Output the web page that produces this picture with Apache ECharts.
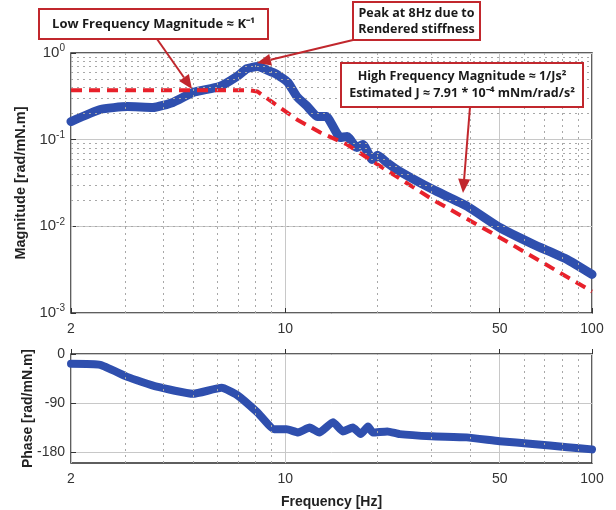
<!DOCTYPE html>
<html><head><meta charset="utf-8">
<script src="https://cdn.jsdelivr.net/npm/echarts@6/dist/echarts.min.js"></script>
<style>html,body{margin:0;padding:0;background:#fff}#c{width:616px;height:510px}</style>
</head><body><div id="c"></div>
<script>
// ---- data ----
const magFreq   = [2, 2.49, 3.05, 3.7, 4.3, 5.0, 6.1, 6.95, 7.5, 8.1, 9.1, 9.6, 10.2, 10.9, 11.8, 12.7, 13.6, 15.1, 15.9, 17.1, 17.9, 19.2, 20.0, 21.5, 23.6, 30.2, 39.2, 50, 64.4, 83, 100];
const magValues = [0.162, 0.223, 0.241, 0.235, 0.269, 0.35, 0.41, 0.536, 0.66, 0.699, 0.596, 0.536, 0.457, 0.315, 0.241, 0.185, 0.185, 0.106, 0.109, 0.081, 0.088, 0.059, 0.066, 0.054, 0.043, 0.0267, 0.0170, 0.0097, 0.0062, 0.00415, 0.00279];
const modelFreq   = [2, 7.6, 8.1, 9.1, 10.9, 13.0, 15.9, 19.3, 30.2, 50, 100];
const modelValues = [0.372, 0.372, 0.36, 0.269, 0.171, 0.121, 0.088, 0.056, 0.0204, 0.00745, 0.00177];
const phaseFreq   = [2, 2.49, 3.05, 3.81, 5.0, 6.2, 6.95, 8.1, 9.2, 10.1, 11.0, 12.0, 12.9, 14.3, 15.4, 16.6, 17.6, 18.6, 19.3, 21.5, 23.6, 30, 39, 50, 64, 83, 100];
const phaseValues = [-18, -20, -42, -60, -73, -62, -75, -107, -138, -138, -144, -135, -144, -125, -142, -135, -147, -133, -144, -142, -147, -151, -153, -160, -165, -171, -175];

const xTickLabels = [2, 10, 50, 100];
const xMinorLines = [3, 4, 5, 6, 7, 8, 9, 20, 30, 40, 60, 70, 80, 90];
const magMinorLines = [0.002, 0.003, 0.004, 0.005, 0.006, 0.007, 0.008, 0.009,
                       0.02, 0.03, 0.04, 0.05, 0.06, 0.07, 0.08, 0.09,
                       0.2, 0.3, 0.4, 0.5, 0.6, 0.7, 0.8, 0.9];
const phaseTickLabels = [-180, -90, 0];

// ---- styling ----
const FONT = '"Liberation Sans", Arial, sans-serif';
const BLUE = '#2f4fae';
const RED = '#e8212b';
const BOXRED = '#c1272d';
const minorStyle = {color: '#a8a8a8', width: 1, type: [2, 4]};

function pairs(xs, ys) { return xs.map((x, i) => [x, ys[i]]); }

function minorSeries(gridIdx, vlines, hlines) {
  const data = [];
  vlines.forEach(v => data.push({xAxis: v}));
  hlines.forEach(v => data.push({yAxis: v}));
  return {
    type: 'line', xAxisIndex: gridIdx, yAxisIndex: gridIdx, z: 1, silent: true,
    data: [], symbol: 'none', lineStyle: {opacity: 0},
    markLine: {silent: true, symbol: ['none', 'none'], animation: false,
      label: {show: false}, lineStyle: minorStyle, emphasis: {disabled: true}, data: data}
  };
}

function xAxisCfg(gridIdx, withName) {
  const a = {
    type: 'log', logBase: 10, min: 2, max: 100, gridIndex: gridIdx,
    axisLine: {show: false},
    axisTick: {show: true, inside: true, length: 5, customValues: xTickLabels, lineStyle: {color: '#333'}},
    axisLabel: {customValues: xTickLabels, formatter: v => String(Math.round(v)), color: '#333', fontSize: 14, margin: 9, fontFamily: FONT},
    splitLine: {show: true, lineStyle: {color: '#c8c8c8', width: 1}}
  };
  if (withName) {
    a.name = 'Frequency [Hz]'; a.nameLocation = 'middle'; a.nameGap = 32;
    a.nameTextStyle = {fontWeight: 'bold', fontSize: 14, color: '#222', fontFamily: FONT};
  }
  return a;
}

function arrow(x1, y1, x2, y2) {
  const dx = x2 - x1, dy = y2 - y1, L = Math.hypot(dx, dy);
  const ux = dx / L, uy = dy / L, hl = 14, hw = 6;
  const bx = x2 - ux * hl, by = y2 - uy * hl;
  return [
    {type: 'line', shape: {x1: x1, y1: y1, x2: bx, y2: by}, style: {stroke: BOXRED, lineWidth: 2}, z: 100},
    {type: 'polygon', shape: {points: [[x2, y2], [bx - uy * hw, by + ux * hw], [bx + uy * hw, by - ux * hw]]}, style: {fill: BOXRED}, z: 100}
  ];
}

function box(x, y, w, h, text, lh, fs) {
  return [
    {type: 'rect', shape: {x: x, y: y, width: w, height: h}, style: {fill: '#fff', stroke: BOXRED, lineWidth: 2}, z: 101},
    {type: 'text', x: x + w / 2, y: y + h / 2, z: 102,
     style: {text: text, align: 'center', verticalAlign: 'middle', fill: '#1a1a1a',
             font: 'bold ' + (fs || 12.5) + 'px "Open Sans", sans-serif', lineHeight: lh || 17}}
  ];
}

const chart = echarts.init(document.getElementById('c'), null, {renderer: 'canvas'});
const option = {
  animation: false,
  backgroundColor: '#fff',
  grid: [
    {left: 71, right: 24, top: 53, height: 260, show: true, borderColor: '#2a2a2a', borderWidth: 1.5, backgroundColor: '#fff'},
    {left: 71, right: 24, top: 354, height: 110, show: true, borderColor: '#2a2a2a', borderWidth: 1.5, backgroundColor: '#fff'}
  ],
  xAxis: [xAxisCfg(0, false), xAxisCfg(1, true)],
  yAxis: [
    {type: 'log', logBase: 10, min: 0.001, max: 1, gridIndex: 0,
     axisLine: {show: false},
     axisTick: {show: true, inside: true, length: 5, lineStyle: {color: '#333'}},
     axisLabel: {color: '#333', margin: 6, fontFamily: FONT,
       formatter: v => '{b|10}{s|' + Math.round(Math.log10(v)) + '}',
       rich: {b: {fontSize: 15, color: '#333', fontFamily: FONT},
              s: {fontSize: 10, color: '#333', fontFamily: FONT, verticalAlign: 'bottom', padding: [0, 0, 9, 0]}}},
     splitLine: {show: true, lineStyle: {color: '#c8c8c8', width: 1}},
     name: 'Magnitude [rad/mN.m]', nameLocation: 'middle', nameGap: 43, nameRotate: 90, nameMoveOverlap: false,
     nameTextStyle: {fontWeight: 'bold', fontSize: 14.5, color: '#222', fontFamily: FONT}},
    {type: 'value', min: -200, max: 0, gridIndex: 1,
     axisLine: {show: false},
     axisTick: {show: true, inside: true, length: 5, customValues: phaseTickLabels, lineStyle: {color: '#333'}},
     axisLabel: {customValues: phaseTickLabels, color: '#333', fontSize: 14, margin: 6, fontFamily: FONT},
     splitLine: {show: true, lineStyle: {color: '#c8c8c8', width: 1}},
     name: 'Phase [rad/mN.m]', nameLocation: 'middle', nameGap: 36, nameRotate: 90, nameMoveOverlap: false,
     nameTextStyle: {fontWeight: 'bold', fontSize: 14, color: '#222', fontFamily: FONT}}
  ],
  series: [
    minorSeries(0, xMinorLines, magMinorLines),
    minorSeries(1, xMinorLines, []),
    {name: 'Magnitude', type: 'line', xAxisIndex: 0, yAxisIndex: 0, z: 3, data: pairs(magFreq, magValues),
     smooth: 0.15, symbol: 'none', lineStyle: {color: BLUE, width: 9, cap: 'round', join: 'round'}},
    {name: 'Model', type: 'line', xAxisIndex: 0, yAxisIndex: 0, z: 4, data: pairs(modelFreq, modelValues),
     symbol: 'none', lineStyle: {color: RED, width: 4, type: [11, 7]}},
    {name: 'Phase', type: 'line', xAxisIndex: 1, yAxisIndex: 1, z: 3, data: pairs(phaseFreq, phaseValues),
     smooth: 0.15, symbol: 'none', lineStyle: {color: BLUE, width: 8, cap: 'round', join: 'round'}}
  ],
  graphic: [].concat(
    arrow(157, 39, 192, 89),
    arrow(353, 40, 257, 63),
    arrow(470, 107, 463, 193),
    box(39, 9, 229, 30, 'Low Frequency Magnitude \u2248 K\u207B\u00B9', 17, 13),
    box(353, 2, 127, 38, 'Peak at 8Hz due to\nRendered stiffness', 16, 12.5),
    box(341, 63, 242, 44, 'High Frequency Magnitude \u2248 1/Js\u00B2\nEstimated J \u2248 7.91 * 10\u207B\u2074 mNm/rad/s\u00B2', 17, 12.5)
  )
};
chart.setOption(option);
</script>
</body></html>
